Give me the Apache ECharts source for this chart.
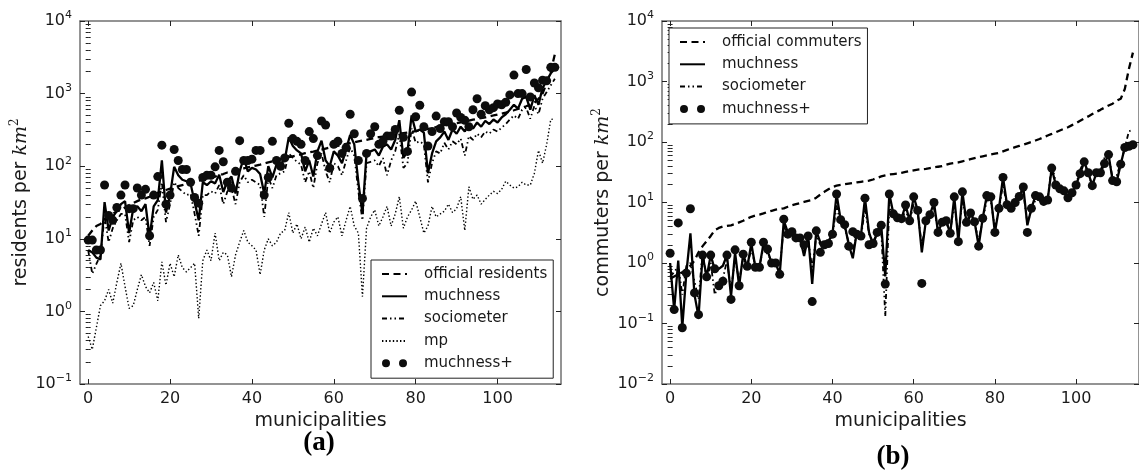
<!DOCTYPE html>
<html>
<head>
<meta charset="utf-8">
<script src="https://cdn.jsdelivr.net/npm/echarts@6/dist/echarts.min.js"></script>
<style>
  html, body { margin: 0; padding: 0; background: #fff; }
  #chart { width: 1139px; height: 472px; }
</style>
</head>
<body>
<div id="chart"></div>
<script>
// (a) residents per km2, municipalities 0..114
var residentsOfficial = [
  11, 13, 15, 16, 18, 21, 22, 24, 25, 27,
  29, 31, 33, 35, 36, 38, 41, 43, 45, 47,
  49, 51, 53, 55, 57, 59, 61, 63, 65, 67,
  69, 72, 75, 78, 82, 84, 87, 90, 93, 96,
  99, 102, 105, 109, 113, 117, 121, 125, 129, 133,
  137, 141, 146, 151, 155, 159, 164, 169, 175, 181,
  186, 191, 197, 203, 208, 213, 219, 225, 231, 238,
  245, 251, 256, 261, 266, 272, 279, 285, 291, 297,
  304, 311, 319, 327, 336, 344, 352, 362, 372, 383,
  393, 403, 414, 425, 437, 448, 459, 472, 486, 500,
  515, 530, 548, 568, 590, 614, 640, 670, 705, 750,
  850, 1000, 1400, 2000, 3500
];
var residentsMuchness = [
  7, 6.5, 5.5, 5.2, 32, 13, 20, 24, 30, 33,
  12, 26, 28, 24, 30, 10.5, 28, 34, 120, 23,
  40, 98, 75, 65, 62, 58, 32, 18, 60, 55,
  62, 58, 76, 44, 62, 72, 42, 85, 130, 85,
  95, 90, 78, 42, 100, 70, 105, 110, 120, 250,
  190, 165, 150, 85, 120, 72, 160, 225, 120, 100,
  160, 140, 110, 170, 270, 200, 60, 22, 150, 160,
  170, 140, 185, 200, 170, 230, 430, 130, 160, 500,
  300, 320, 290, 80, 150, 220, 250, 300, 230, 320,
  280, 350, 300, 380, 330, 400, 350, 420, 380, 440,
  400, 470, 520, 600, 700, 620, 850, 900, 600, 950,
  700, 1200, 1500, 1900, 2200
];
var residentsSociometer = [
  7, 3.3, 4.5, 6, 20, 9, 14, 18, 22, 22,
  9, 18, 20, 18, 20, 8, 20, 25, 60, 17,
  30, 60, 50, 45, 40, 42, 22, 11, 40, 40,
  45, 42, 55, 30, 45, 50, 30, 60, 75, 60,
  65, 60, 55, 20, 70, 50, 75, 80, 85, 150,
  130, 115, 105, 60, 85, 50, 110, 150, 85, 60,
  110, 100, 75, 120, 180, 140, 45, 18, 110, 115,
  120, 100, 130, 75, 120, 160, 280, 95, 110, 330,
  210, 220, 200, 60, 110, 160, 150, 210, 170, 220,
  200, 240, 140, 260, 230, 280, 250, 300, 280, 320,
  300, 340, 380, 440, 500, 450, 600, 640, 450, 680,
  520, 850, 1050, 1300, 1600
];
var residentsMp = [
  0.45, 0.3, 0.6, 1.2, 1.4, 2.0, 1.3, 2.5, 4.6, 2.2,
  1.1, 1.2, 2.0, 3.2, 2.2, 1.8, 2.5, 1.4, 4.8, 2.3,
  4.6, 3.0, 6.0, 4.0, 3.5, 4.0, 4.6, 0.8, 5.0, 7.0,
  5.0, 12, 5.0, 6.5, 6.0, 3.0, 6.0, 9.0, 13, 9.0,
  8.0, 7.0, 3.2, 7.0, 10, 8.0, 9.0, 12, 13, 23,
  12, 16, 10, 14.5, 9, 14, 11, 16, 23, 12,
  17, 20, 11, 18, 28, 15, 12, 1.6, 14, 20,
  25, 15, 20, 28, 15, 22, 38, 14, 20, 25,
  33, 20, 12, 15, 28, 20, 22, 24, 30, 23,
  26, 38, 13, 52, 35, 40, 30, 35, 40, 45,
  42, 48, 62, 55, 50, 52, 60, 55, 55, 80,
  165, 110, 200, 440, 450
];
var residentsMuchnessPlus = [
  9.6, 9.6, 7, 7, 55, 21, 18, 27, 40, 55,
  26, 26, 50, 40, 48, 11, 40, 72, 195, 30,
  40, 170, 120, 90, 90, 60, 37, 31, 70, 75,
  75, 98, 165, 115, 60, 50, 85, 225, 120, 120,
  125, 165, 165, 40, 70, 220, 120, 100, 130, 390,
  240, 220, 200, 120, 300, 240, 140, 420, 370, 94,
  200, 220, 150, 180, 520, 280, 120, 36, 150, 280,
  350, 200, 220, 260, 260, 320, 590, 250, 160, 1050,
  480, 690, 350, 190, 300, 490, 330, 410, 410, 350,
  540, 470, 430, 350, 600, 850, 520, 680, 600, 640,
  720, 700, 760, 960, 1800, 1000, 1000, 2150, 900, 1400,
  1200, 1530, 1500, 2300, 2300
];

// (b) commuters per km2
var commutersOfficial = [
  0.55, 0.6, 0.65, 0.7, 0.8, 0.9, 1.1, 1.5, 1.9, 2.3,
  2.8, 3.5, 3.8, 4.0, 4.1, 4.2, 4.4, 4.7, 5.0, 5.4,
  5.8, 6.1, 6.3, 6.6, 7.0, 7.3, 7.6, 7.8, 8.0, 8.5,
  9.0, 9.4, 9.8, 10.2, 10.6, 11.0, 12.0, 13.5, 15, 16.5,
  18, 19, 19.5, 20, 20.5, 21, 21.5, 22, 22.5, 23,
  24, 25.5, 27, 28, 29, 29.5, 30, 31, 32, 33,
  34, 35, 35.5, 36, 37, 38, 39, 40, 42, 44,
  45, 46, 48, 50, 52, 54, 56, 58, 60, 62,
  64, 66, 70, 74, 78, 82, 86, 90, 95, 100,
  106, 112, 120, 128, 136, 145, 155, 165, 175, 190,
  205, 225, 245, 265, 290, 315, 340, 370, 400, 430,
  480, 520, 750, 1600, 3000
];
var commutersMuchness = [
  1.0, 0.17, 1.1, 0.087, 0.68, 3.1, 0.3, 0.13, 1.35, 0.59,
  1.35, 0.77, 0.8, 0.9, 1.35, 0.28, 1.5, 0.42, 1.4, 0.85,
  2.1, 0.85, 0.85, 2.1, 1.6, 1.0, 1.0, 0.65, 5.0, 3.2,
  3.3, 2.8, 2.6, 1.3, 2.8, 0.45, 3.4, 2.2, 2.0, 2.3,
  3.0, 13.8, 5.2, 4.3, 2.0, 1.2, 3.3, 2.8, 11.8, 3.2,
  2.0, 3.2, 4.2, 0.6, 13.8, 6.5, 5.6, 5.4, 9.1, 5.0,
  12.4, 7.4, 1.5, 5.0, 6.3, 10, 3.2, 4.7, 5.0, 3.1,
  12.4, 2.25, 15, 4.7, 6.7, 4.8, 1.9, 5.5, 13, 12.4,
  3.2, 8, 26, 9.2, 8, 10, 12.6, 18, 4.2, 8,
  13, 12.4, 10.5, 11, 37, 19.5, 16.8, 15.6, 12, 14.5,
  19.5, 30, 47, 31, 19, 31, 31, 44, 62, 23,
  22, 43, 81, 85, 90
];
var commutersSociometer = [
  0.6, 0.7, 0.9, 0.3, 0.9, 1.0, 0.5, 0.25, 1.6, 0.5,
  1.0, 0.3, 0.45, 0.55, 1.1, 0.35, 1.2, 0.5, 1.2, 0.9,
  1.7, 0.9, 0.9, 1.8, 1.4, 1.1, 1.1, 0.8, 4.0, 3.0,
  2.8, 2.4, 2.2, 1.5, 2.5, 0.8, 2.8, 2.0, 1.9, 2.3,
  2.8, 9.0, 4.5, 3.8, 2.2, 1.6, 3.0, 2.6, 8.0, 3.0,
  2.3, 3.0, 3.6, 0.13, 9.0, 5.5, 5.5, 5.0, 7.5, 4.8,
  9.5, 6.5, 2.0, 4.5, 5.5, 8.0, 3.5, 4.5, 4.6, 3.3,
  9.5, 2.8, 11, 4.5, 6.0, 4.5, 2.4, 5.0, 11, 10.5,
  3.8, 7.5, 20, 8.5, 7.5, 9.5, 11, 15, 4.5, 7.5,
  11, 11, 9, 11, 42, 22, 20, 14, 12, 15,
  20, 35, 48, 28, 20, 30, 33, 55, 60, 25,
  28, 45, 80, 150, 160
];
var commutersMuchnessPlus = [
  1.45, 0.17, 4.6, 0.085, 0.68, 7.9, 0.32, 0.14, 1.35, 0.59,
  1.35, 0.8, 0.42, 0.5, 1.35, 0.25, 1.65, 0.42, 1.4, 0.88,
  2.2, 0.85, 0.85, 2.2, 1.7, 1.0, 1.0, 0.65, 5.3, 3.0,
  3.3, 2.6, 2.6, 2.0, 2.8, 0.23, 3.4, 1.5, 2.0, 2.1,
  3.0, 13.8, 5.2, 4.3, 1.9, 3.3, 3.0, 2.8, 11.8, 2.0,
  2.1, 3.2, 4.2, 0.45, 13.8, 6.5, 5.6, 5.4, 9.1, 5.0,
  12.4, 7.4, 0.46, 5.0, 6.3, 10, 3.2, 4.7, 5.0, 3.1,
  12.4, 2.25, 15, 4.7, 6.7, 4.8, 1.9, 5.5, 13, 12.4,
  3.2, 8, 26, 9.2, 8, 10, 12.6, 18, 3.2, 8,
  13, 12.4, 10.5, 11, 37, 19.5, 16.8, 15.6, 12, 14.5,
  19.5, 30, 47, 31, 19, 31, 31, 44, 62, 23,
  22, 43, 81, 85, 90
];

var xTicks = [0, 20, 40, 60, 80, 100];
var yTicksA = [0.1, 1, 10, 100, 1000, 10000];
var yTicksB = [0.01, 0.1, 1, 10, 100, 1000, 10000];

var FONT = 'DejaVu Sans';
var INK = '#1a1a1a';
var spine = { show: true, onZero: false, lineStyle: { color: '#707070', width: 1.5 } };

// 2..9 inside every decade, like matplotlib's minor ticks
function minorTicks(decades) {
  var out = [];
  decades.slice(0, -1).forEach(function (d) {
    for (var k = 2; k < 10; k++) out.push(+(d * k).toPrecision(3));
  });
  return out;
}

function pairs(arr) {
  return arr.map(function (v, i) { return [i, v]; });
}

function xAxes(gi) {
  var tick = { show: true, inside: true, length: 5, customValues: xTicks, lineStyle: { color: '#222', width: 1 } };
  return [{
    type: 'value', gridIndex: gi, min: -2, max: 115.5, position: 'bottom',
    name: 'municipalities', nameLocation: 'middle', nameGap: 25,
    nameTextStyle: { fontFamily: FONT, fontSize: 19, color: INK },
    axisLine: spine, axisTick: tick,
    axisLabel: { customValues: xTicks, fontFamily: FONT, fontSize: 16, color: INK, margin: 7 },
    splitLine: { show: false }
  }, {
    type: 'value', gridIndex: gi, min: -2, max: 115.5, position: 'top',
    axisLine: spine, axisTick: tick, axisLabel: { show: false }, splitLine: { show: false }
  }];
}

function yAxes(gi, lo, majors, label) {
  var minors = minorTicks(majors);
  var majorTick = { show: true, inside: true, length: 5, customValues: majors, lineStyle: { color: '#222', width: 1 } };
  var minorTick = { show: true, inside: true, length: 2.5, customValues: minors, lineStyle: { color: '#222', width: 1 } };
  function base(pos) {
    return { type: 'log', logBase: 10, gridIndex: gi, min: lo, max: 10000, position: pos, splitLine: { show: false } };
  }
  var main = base('left');
  main.name = '{n|' + label + ' per }{i|km}{s|2}';
  main.nameLocation = 'middle';
  main.nameGap = 49;
  main.nameTextStyle = {
    rich: {
      n: { fontFamily: FONT, fontSize: 19, color: INK, lineHeight: 20, verticalAlign: 'bottom' },
      i: { fontFamily: 'DejaVu Serif', fontStyle: 'italic', fontSize: 19, color: INK, lineHeight: 20, verticalAlign: 'bottom' },
      s: { fontFamily: 'DejaVu Serif', fontSize: 12, color: INK, lineHeight: 12, verticalAlign: 'bottom', padding: [0, 0, 10, 0] }
    }
  };
  main.axisLine = spine;
  main.axisTick = majorTick;
  main.axisLabel = {
    customValues: majors, margin: 8,
    formatter: function (v) {
      var e = Math.round(Math.log10(v));
      return '{b|10}{s|' + String(e).replace('-', '\u2212') + '}';
    },
    rich: {
      b: { fontFamily: FONT, fontSize: 16, color: INK, lineHeight: 16, verticalAlign: 'bottom' },
      s: { fontFamily: FONT, fontSize: 11, color: INK, lineHeight: 11, verticalAlign: 'bottom', padding: [0, 0, 8, 0] }
    }
  };
  var leftMinor = base('left');
  leftMinor.axisLine = { show: false };
  leftMinor.axisTick = minorTick;
  leftMinor.axisLabel = { show: false };
  var rightMajor = base('right');
  rightMajor.axisLine = spine;
  rightMajor.axisTick = majorTick;
  rightMajor.axisLabel = { show: false };
  var rightMinor = base('right');
  rightMinor.axisLine = { show: false };
  rightMinor.axisTick = minorTick;
  rightMinor.axisLabel = { show: false };
  return [main, leftMinor, rightMajor, rightMinor];
}

var dashed = [7, 4.5];
var dashDotDot = [5, 3, 1.5, 3, 1.5, 3];
var dotted = [1.4, 2.2];

function lineSeries(name, arr, xi, yi, type, width, z) {
  return {
    name: name, type: 'line', xAxisIndex: xi, yAxisIndex: yi,
    data: pairs(arr), symbol: 'none', showSymbol: false, z: z,
    lineStyle: { color: '#000', width: width, type: type },
    itemStyle: { color: '#000' }
  };
}
function dotSeries(name, arr, xi, yi) {
  return {
    name: name, type: 'scatter', xAxisIndex: xi, yAxisIndex: yi,
    data: pairs(arr), symbolSize: 9, z: 6,
    itemStyle: { color: '#0d0d0d', opacity: 1 }
  };
}

// legend entries: plain line samples, and two dots for muchness+
var DOTS = 'path://M0,4a4,4 0 1,0 8,0a4,4 0 1,0 -8,0zM17,4a4,4 0 1,0 8,0a4,4 0 1,0 -8,0z';
function lineItem(name) { return { name: name, itemStyle: { opacity: 0 } }; }
function dotItem(name) { return { name: name, icon: DOTS, itemStyle: { opacity: 1 } }; }
var legendBase = {
  orient: 'vertical', itemWidth: 25, itemHeight: 10, itemGap: 6.3,
  padding: [6, 6, 7, 10], borderColor: '#222', borderWidth: 1, borderRadius: 0,
  backgroundColor: '#fff',
  textStyle: { fontFamily: FONT, fontSize: 15, color: INK, lineHeight: 16, padding: [0, 0, 0, 12] }
};

var chart = echarts.init(document.getElementById('chart'), null, { renderer: 'canvas' });
chart.setOption({
  animation: false,
  backgroundColor: '#fff',
  grid: [
    { left: 80, top: 21, width: 481, height: 363 },
    { left: 662, top: 21, width: 484, height: 363 }
  ],
  xAxis: xAxes(0).concat(xAxes(1)),
  yAxis: yAxes(0, 0.1, yTicksA, 'residents').concat(yAxes(1, 0.01, yTicksB, 'commuters')),
  legend: [
    Object.assign({}, legendBase, {
      left: 371, top: 260,
      data: [
        lineItem('official residents'), lineItem('muchness'), lineItem('sociometer'),
        lineItem('mp'), dotItem('muchness+')
      ]
    }),
    Object.assign({}, legendBase, {
      left: 669, top: 28,
      data: [
        lineItem('official commuters'), lineItem('muchness'), lineItem('sociometer'),
        dotItem('muchness+')
      ]
    })
  ],
  graphic: [
    { type: 'text', x: 319, y: 443, style: { text: '(a)', font: 'bold 27px "Liberation Serif"', fill: '#000', textAlign: 'center', textVerticalAlign: 'middle' } },
    { type: 'text', x: 893, y: 457, style: { text: '(b)', font: 'bold 27px "Liberation Serif"', fill: '#000', textAlign: 'center', textVerticalAlign: 'middle' } }
  ],
  series: [
    lineSeries('official residents', residentsOfficial, 0, 0, dashed, 2.3, 3),
    lineSeries('muchness', residentsMuchness, 0, 0, 'solid', 2.3, 4),
    lineSeries('sociometer', residentsSociometer, 0, 0, dashDotDot, 1.8, 3),
    lineSeries('mp', residentsMp, 0, 0, dotted, 1.4, 3),
    dotSeries('muchness+', residentsMuchnessPlus, 0, 0),

    lineSeries('official commuters', commutersOfficial, 2, 4, dashed, 2.3, 3),
    lineSeries('muchness', commutersMuchness, 2, 4, 'solid', 2.3, 4),
    lineSeries('sociometer', commutersSociometer, 2, 4, dashDotDot, 1.8, 3),
    dotSeries('muchness+', commutersMuchnessPlus, 2, 4)
  ]
});
</script>
</body>
</html>
